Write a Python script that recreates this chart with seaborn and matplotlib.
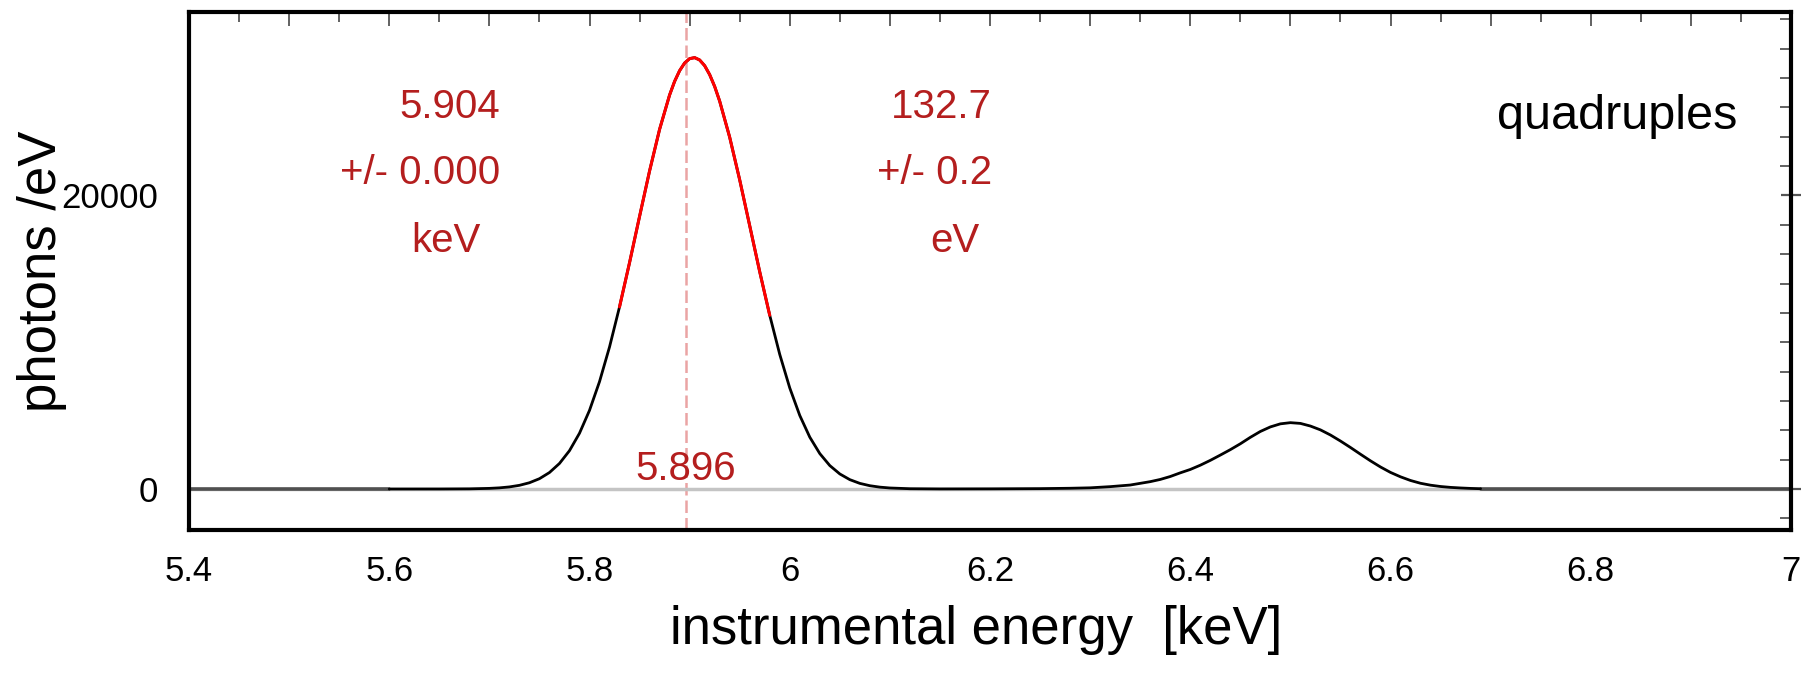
import numpy as np
import pandas as pd
import matplotlib
matplotlib.use('Agg')
import matplotlib.pyplot as plt
from matplotlib.ticker import MultipleLocator, FuncFormatter
import seaborn as sns

# spectrum (instrumental energy in keV, photons per eV)
energy = [5.60, 5.65, 5.68, 5.70, 5.71, 5.72, 5.73, 5.74, 5.75, 5.76, 5.77, 5.78, 5.79,
          5.80, 5.81, 5.82, 5.83, 5.84, 5.85, 5.86, 5.87, 5.88, 5.885, 5.89, 5.895, 5.90,
          5.905, 5.91, 5.915, 5.92, 5.925,
          5.93, 5.94, 5.95, 5.96, 5.97, 5.98, 5.99, 6.00, 6.01, 6.02, 6.03, 6.04, 6.05,
          6.06, 6.07, 6.08, 6.09, 6.10, 6.12, 6.15, 6.20, 6.25, 6.28, 6.30, 6.32, 6.34,
          6.36, 6.37, 6.38, 6.39, 6.40, 6.41, 6.42, 6.43, 6.44, 6.45, 6.46, 6.47, 6.48,
          6.49, 6.50, 6.51, 6.52, 6.53, 6.54, 6.55, 6.56, 6.57, 6.58, 6.59, 6.60, 6.61,
          6.62, 6.63, 6.64, 6.65, 6.66, 6.67, 6.68, 6.69]
counts = [0, 1, 11, 42, 78, 142, 250, 426, 702, 1122, 1740, 2611, 3799,
          5357, 7315, 9678, 12413, 15426, 18575, 21674, 24508, 26851, 27777, 28506, 29027, 29326,
          29395, 29234, 28847, 28239, 27430,
          26431, 23973, 21068, 17943, 14806, 11839, 9173, 6888, 5013, 3534, 2414, 1597, 1026,
          637, 383, 224, 127, 69, 19, 5, 10, 25, 50, 80, 160, 270,
          500, 650, 850, 1100, 1330, 1620, 1950, 2310, 2680, 3080, 3520, 3920, 4230,
          4440, 4520, 4470, 4290, 4030, 3680, 3270, 2830, 2370, 1920, 1500, 1130, 830,
          580, 390, 260, 170, 110, 70, 40, 20]

# stretches with no counts
empty_left = [5.40, 5.60]
empty_right = [6.69, 7.00]

# fit results
fit_lo, fit_hi = 5.826, 5.980
peak_center = 5.904
peak_center_err = 0.000
fwhm = 132.7
fwhm_err = 0.2
line_energy = 5.896

sns.set_theme(style='white')
plt.rcParams['font.family'] = ['Liberation Sans', 'DejaVu Sans']
plt.rcParams['text.color'] = 'black'
plt.rcParams['xtick.labelcolor'] = 'black'
plt.rcParams['ytick.labelcolor'] = 'black'

W, H = 1804, 688
fig = plt.figure(figsize=(W / 100, H / 100), dpi=100)
ax = fig.add_axes([189 / W, 1 - 530 / H, 1602 / W, 518 / H])

df = pd.DataFrame({'energy': energy, 'counts': counts})
fit = df[(df['energy'] >= fit_lo) & (df['energy'] <= fit_hi)]

ax.axhline(0, color='#c4c4c4', lw=2.5, zorder=1)
for seg in (empty_left, empty_right):
    sns.lineplot(x=seg, y=[0, 0], ax=ax, color='#505050', lw=2.6, estimator=None)
sns.lineplot(data=df, x='energy', y='counts', ax=ax, color='black', lw=2.0, estimator=None)
sns.lineplot(data=fit, x='energy', y='counts', ax=ax, color='#ff0000', lw=2.2, estimator=None)
ax.axvline(line_energy, color='#eaa4a4', lw=1.8, ls=(0, (5, 2)), zorder=0.5)

ax.set_xlim(5.4, 7.0)
ax.set_ylim(-2794, 32504)
ax.set_xlabel('')
ax.set_ylabel('')

ax.xaxis.set_major_locator(MultipleLocator(0.1))
ax.xaxis.set_minor_locator(MultipleLocator(0.05))
ax.xaxis.set_major_formatter(FuncFormatter(
    lambda v, p: f'{v:g}' if abs(v * 5 - round(v * 5)) < 1e-6 else ''))
ax.yaxis.set_major_locator(MultipleLocator(20000))
ax.yaxis.set_minor_locator(MultipleLocator(2000))
ax.yaxis.set_major_formatter(FuncFormatter(lambda v, p: f'{v:g}'))

ax.tick_params(which='both', direction='in', top=True, right=True, color='#555555')
ax.tick_params(axis='x', which='major', length=10, width=1.3, pad=18, labelsize=25)
ax.tick_params(axis='x', which='minor', length=7, width=1.3)
ax.tick_params(axis='y', which='major', direction='inout', length=14, width=1.6, pad=15, labelsize=25)
ax.tick_params(axis='y', which='minor', length=8, width=1.3)

for sp in ax.spines.values():
    sp.set_color('black')
    sp.set_linewidth(3)

red = '#b41e1e'
ax.text(5.7106, 25281, f'{peak_center:.3f}', color=red, fontsize=29, ha='right', va='baseline')
ax.text(5.7106, 20784, f'+/- {peak_center_err:.3f}', color=red, fontsize=29, ha='right', va='baseline')
ax.text(5.6567, 16150, 'keV', color=red, fontsize=29, ha='center', va='baseline')
ax.text(6.202, 25281, f'{fwhm:.1f}', color=red, fontsize=29, ha='right', va='baseline')
ax.text(6.202, 20784, f'+/- {fwhm_err:.1f}', color=red, fontsize=29, ha='right', va='baseline')
ax.text(6.165, 16150, 'eV', color=red, fontsize=29, ha='center', va='baseline')
ax.text(line_energy, 613, f'{line_energy:.3f}', color=red, fontsize=29, ha='center', va='baseline')
ax.text(6.946, 24532, 'quadruples', color='black', fontsize=35, ha='right', va='baseline')

fig.text(976 / W, 1 - 630 / H, 'instrumental energy  [keV]', fontsize=38, ha='center', va='center')
fig.text(42 / W, 1 - 271 / H, 'photons /eV', fontsize=38, rotation=90, ha='center', va='center')

fig.savefig('out.png', dpi=100)
